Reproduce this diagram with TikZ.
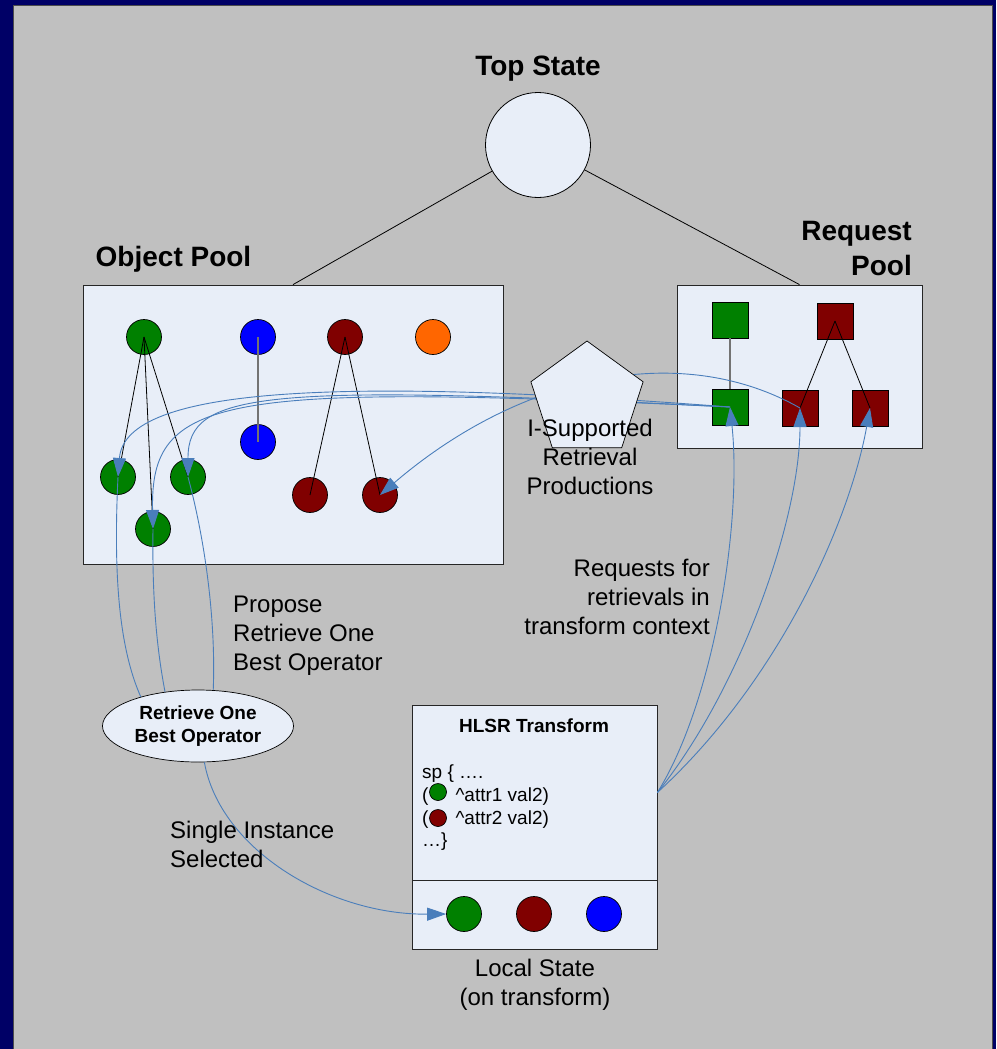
\documentclass[tikz,border=0pt]{standalone}
\usepackage{fontspec}
\setmainfont{Liberation Sans}
\usetikzlibrary{shapes.geometric,arrows.meta}

\definecolor{navy}{RGB}{0,0,102}
\definecolor{slide}{RGB}{192,192,192}
\definecolor{pale}{RGB}{232,238,248}
\definecolor{flowblue}{RGB}{74,126,187}
\definecolor{dgreen}{RGB}{0,128,0}
\definecolor{dred}{RGB}{128,0,0}
\definecolor{pblue}{RGB}{0,0,255}
\definecolor{porange}{RGB}{255,102,0}

\begin{document}
\begin{tikzpicture}[x=1pt,y=-1pt,
  lbl/.style={inner sep=0, font=\fontsize{24}{29}\selectfont, align=center},
  ttl/.style={inner sep=0, font=\fontsize{28}{35}\selectfont\bfseries},
  panel/.style={draw=black!85, fill=pale, line width=0.8pt, inner sep=0},
  dot/.style={circle, draw=black, line width=0.7pt, minimum size=35pt, inner sep=0},
  sq/.style={rectangle, draw=black, line width=0.7pt, minimum size=36pt, inner sep=0},
  link/.style={black, line width=0.8pt},
  glink/.style={black!55, line width=1.8pt},
  flow/.style={flowblue, line width=0.9pt, -{Triangle[length=19pt,width=13pt]}},
  wire/.style={flowblue, line width=0.9pt},
]
\useasboundingbox (0,0) rectangle (996,1049);

% slide frame
\fill[navy] (0,0) rectangle (996,1049);
\filldraw[fill=slide, draw=black!70, line width=0.8pt] (13,5) rectangle (992,1060);

% headings
\node[ttl, anchor=base] (toplbl) at (538,75) {Top State};
\node[ttl, anchor=base] (oplbl) at (173.5,266) {Object Pool};
\node[ttl, anchor=east, align=right] (rplbl) at (912,249) {Request\\Pool};

% containers
\node[circle, draw=black, line width=0.8pt, fill=pale, minimum size=105pt, inner sep=0] (top) at (538,145) {};
\node[panel, minimum width=420pt, minimum height=279pt] (op) at (293,424.5) {};
\node[panel, minimum width=245pt, minimum height=163pt] (rp) at (799.5,366.5) {};
\draw[link] (top) -- (op.north);
\draw[link] (top) -- (rp.north);

% objects
\node[dot, fill=dgreen] (g1) at (144,337) {};
\node[dot, fill=pblue] (b1) at (258,337) {};
\node[dot, fill=dred] (r1) at (345,337) {};
\node[dot, fill=porange] (o1) at (433,337) {};
\node[dot, fill=dgreen] (g2) at (118,477) {};
\node[dot, fill=dgreen] (g3) at (153,529) {};
\node[dot, fill=dgreen] (g4) at (188,477) {};
\node[dot, fill=pblue] (b2) at (258,442) {};
\node[dot, fill=dred] (r2) at (310,495) {};
\node[dot, fill=dred] (r3) at (380,495) {};

\draw[link] (g1.center) -- (g2.center);
\draw[link] (g1.center) -- (g3.center);
\draw[link] (g1.center) -- (g4.center);
\draw[glink] (b1.center) -- (b2.center);
\draw[link] (r1.center) -- (r2.center);
\draw[link] (r1.center) -- (r3.center);

% requests
\node[sq, fill=dgreen] (gs1) at (730,320) {};
\node[sq, fill=dred] (rs1) at (835,321) {};
\node[sq, fill=dgreen] (gs2) at (730,407) {};
\node[sq, fill=dred] (rs2) at (800,408) {};
\node[sq, fill=dred] (rs3) at (870,408) {};
\draw[glink] (gs1.south) -- (gs2.north);
\draw[link] (rs1.center) -- (rs2.center);
\draw[link] (rs1.center) -- (rs3.center);

% retrievals into the object pool
\draw[flow] (gs2.center) .. controls (350,378) and (125,385) .. (g2.center);
\draw[flow] (gs2.center) .. controls (260,383) and (188,392) .. (g4.center);
\draw[flow] (gs2.center) .. controls (220,383) and (150,395) .. (g3.center);
\draw[flow] (rs2.center) .. controls (680,340) and (520,375) .. (r3.center);

% retrieval productions
\node[regular polygon, regular polygon sides=5, minimum size=118pt, draw=black, line width=0.7pt, fill=pale, inner sep=0] (isp) at (587,400) {};
\node[lbl] (isptxt) at (590,457) {I-Supported\\Retrieval\\Productions};

% operator
\node[ellipse, draw=black, line width=0.7pt, fill=pale, minimum width=191pt, minimum height=72pt, inner sep=0,
      font=\fontsize{19}{23}\selectfont\bfseries, align=center] (rob) at (198,726) {Retrieve One\\Best Operator};
\draw[wire] (g2.center) .. controls (113,580) and (120,650) .. (rob.153);
\draw[wire] (g3.center) .. controls (152,600) and (157,650) .. (rob.134);
\draw[wire] (g4.center) .. controls (205,540) and (216,620) .. (rob.67);
\node[lbl, anchor=west, align=left] (prop) at (233,636) {Propose\\Retrieve One\\Best Operator};

% transform
\node[panel, minimum width=245pt, minimum height=175pt] (xf) at (534.5,792.5) {};
\node[panel, minimum width=245pt, minimum height=69pt] (ls) at (534.5,914.5) {};
\node[inner sep=0, font=\fontsize{19}{23}\selectfont\bfseries] (xftitle) at (534,725.5) {HLSR Transform};
\node[anchor=west, inner sep=0, align=left, font=\fontsize{19}{22.7}\selectfont] (code) at (422,808)
  {sp \{ ….\\(\hspace{27pt}\textasciicircum attr1 val2)\\(\hspace{27pt}\textasciicircum attr2 val2)\\…\}};
\node[dot, fill=dgreen, minimum size=17pt] (cg) at (438,792) {};
\node[dot, fill=dred, minimum size=17pt] (cr) at (438,818) {};

\node[dot, fill=dgreen] (lsg) at (464,914) {};
\node[dot, fill=dred] (lsr) at (534,914) {};
\node[dot, fill=pblue] (lsb) at (604,914) {};
\node[lbl] (lslbl) at (535,985) {Local State\\(on transform)};

\draw[flow] (rob.-80) .. controls (220,850) and (330,915) .. (lsg.west);
\node[lbl, anchor=west, align=left] (single) at (170,844) {Single Instance\\Selected};

\draw[flow] (xf.east) .. controls (715,700) and (742,520) .. (gs2.center);
\draw[flow] (xf.east) .. controls (740,690) and (800,520) .. (rs2.center);
\draw[flow] (xf.east) .. controls (780,680) and (850,520) .. (rs3.center);
\node[lbl, anchor=east, align=right] (req) at (710,597) {Requests for\\retrievals in\\transform context};

\end{tikzpicture}
\end{document}
